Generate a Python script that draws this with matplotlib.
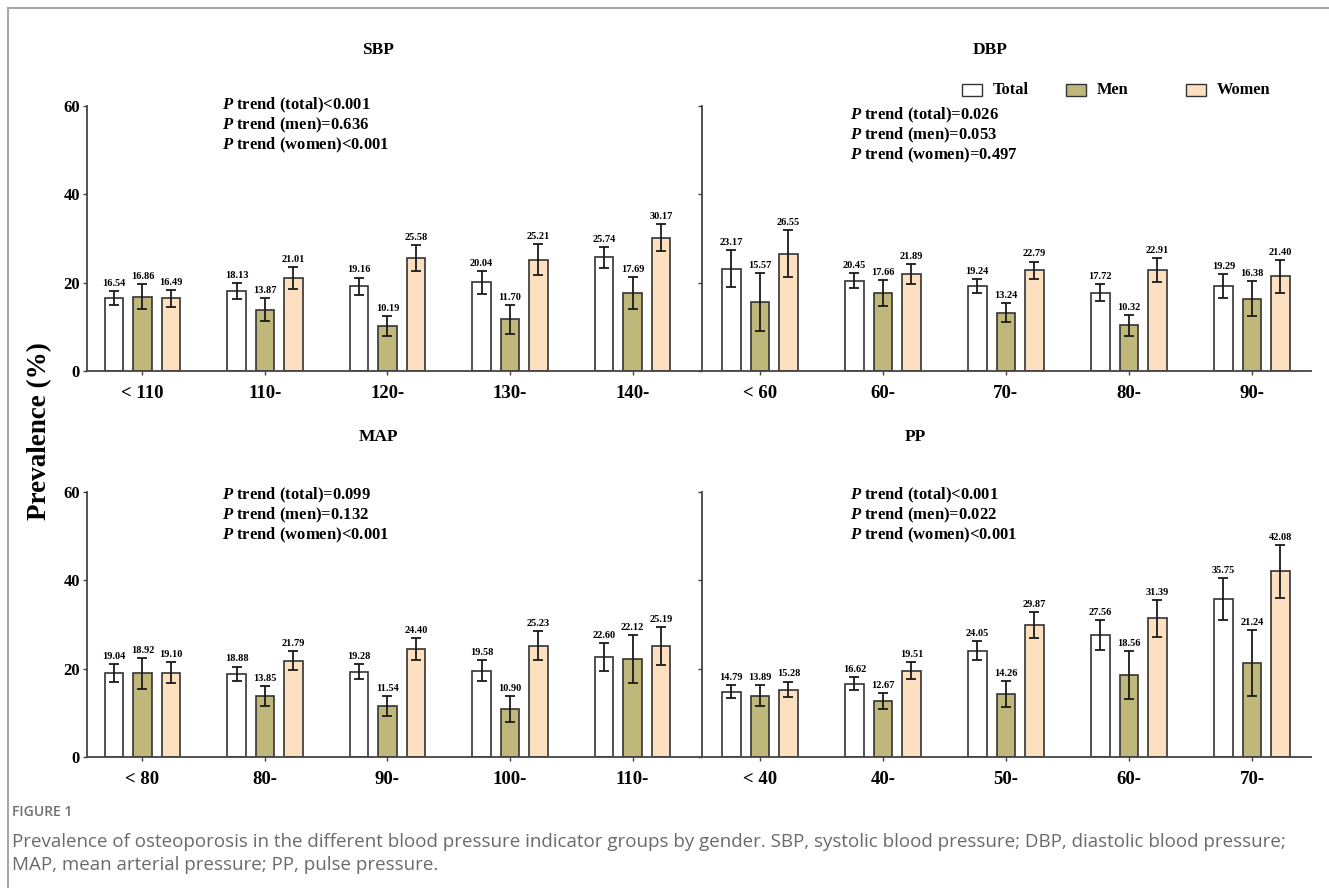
import numpy as np
import matplotlib
matplotlib.use("Agg")
import matplotlib.pyplot as plt
from matplotlib.patches import Rectangle
from matplotlib.lines import Line2D

plt.rcParams['font.family'] = ['Liberation Serif', 'DejaVu Serif']
plt.rcParams['mathtext.fontset'] = 'custom'
plt.rcParams['mathtext.it'] = 'Liberation Serif:italic:bold'
plt.rcParams['mathtext.rm'] = 'Liberation Serif:bold'

# SBP
sbp_groups = ["< 110", "110-", "120-", "130-", "140-"]
sbp_total = [16.54, 18.13, 19.16, 20.04, 25.74]
sbp_men = [16.86, 13.87, 10.19, 11.70, 17.69]
sbp_women = [16.49, 21.01, 25.58, 25.21, 30.17]
sbp_total_err = [1.6, 1.8, 2.0, 2.55, 2.4]
sbp_men_err = [2.8, 2.6, 2.35, 3.3, 3.55]
sbp_women_err = [1.9, 2.5, 2.9, 3.5, 3.1]
sbp_trend = ["(total)<0.001", "(men)=0.636", "(women)<0.001"]

# DBP
dbp_groups = ["< 60", "60-", "70-", "80-", "90-"]
dbp_total = [23.17, 20.45, 19.24, 17.72, 19.29]
dbp_men = [15.57, 17.66, 13.24, 10.32, 16.38]
dbp_women = [26.55, 21.89, 22.79, 22.91, 21.40]
dbp_total_err = [4.2, 1.75, 1.5, 1.9, 2.7]
dbp_men_err = [6.55, 2.85, 2.15, 2.3, 3.9]
dbp_women_err = [5.35, 2.3, 2.0, 2.7, 3.7]
dbp_trend = ["(total)=0.026", "(men)=0.053", "(women)=0.497"]

# MAP
map_groups = ["< 80", "80-", "90-", "100-", "110-"]
map_total = [19.04, 18.88, 19.28, 19.58, 22.60]
map_men = [18.92, 13.85, 11.54, 10.90, 22.12]
map_women = [19.10, 21.79, 24.40, 25.23, 25.19]
map_total_err = [2.0, 1.6, 1.7, 2.35, 3.2]
map_men_err = [3.45, 2.3, 2.2, 2.9, 5.4]
map_women_err = [2.45, 2.1, 2.45, 3.35, 4.3]
map_trend = ["(total)=0.099", "(men)=0.132", "(women)<0.001"]

# PP
pp_groups = ["< 40", "40-", "50-", "60-", "70-"]
pp_total = [14.79, 16.62, 24.05, 27.56, 35.75]
pp_men = [13.89, 12.67, 14.26, 18.56, 21.24]
pp_women = [15.28, 19.51, 29.87, 31.39, 42.08]
pp_total_err = [1.5, 1.4, 2.2, 3.4, 4.8]
pp_men_err = [2.4, 1.9, 2.9, 5.5, 7.5]
pp_women_err = [1.8, 1.95, 2.9, 4.2, 6.0]
pp_trend = ["(total)<0.001", "(men)=0.022", "(women)<0.001"]

series_names = ["Total", "Men", "Women"]
colors = ["#ffffff", "#c0b77b", "#fde0c0"]

W, H = 1329, 888
fig = plt.figure(figsize=(W / 100, H / 100), dpi=100)


def px(x, y):
    return x / W, 1 - y / H


def make_axes(left, right, top, bottom):
    x0, y0 = px(left, bottom)
    x1, y1 = px(right, top)
    return fig.add_axes([x0, y0, x1 - x0, y1 - y0])


def draw_panel(ax, groups, vals, errs, show_ylabels, xlim):
    x = np.arange(len(groups))
    width = 0.151
    offsets = [-0.232, 0, 0.232]
    for v, e, c, off in zip(vals, errs, colors, offsets):
        ax.bar(x + off, v, width, color=c, edgecolor="#333333", linewidth=1.2, zorder=2)
        ax.errorbar(x + off, v, yerr=e, fmt="none", ecolor="#1a1a1a",
                    elinewidth=1.3, capsize=3.8, capthick=1.3, zorder=3)
        for xi, vi, ei in zip(x + off, v, e):
            ax.text(xi, vi + ei + 0.7, f"{vi:.2f}", ha="center", va="bottom",
                    fontsize=7.5, fontweight="bold")
    ax.set_xlim(*xlim)
    ax.set_ylim(0, 60)
    ax.set_yticks([0, 20, 40, 60])
    ax.set_xticks(x)
    ax.set_xticklabels(groups, fontsize=13.5, fontweight="bold")
    for spine in ["top", "right"]:
        ax.spines[spine].set_visible(False)
    for spine in ["left", "bottom"]:
        ax.spines[spine].set_color("#444444")
        ax.spines[spine].set_linewidth(1.3)
    ax.tick_params(axis="x", length=3, width=1, color="#444444", pad=7)
    ax.tick_params(axis="y", length=3, width=1, color="#444444", pad=2)
    if show_ylabels:
        for lab in ax.get_yticklabels():
            lab.set_fontweight("bold")
            lab.set_fontsize(12)
    else:
        ax.set_yticklabels([])


ax_sbp = make_axes(87, 700, 106, 371)
ax_dbp = make_axes(702, 1311, 106, 371)
ax_map = make_axes(87, 700, 492, 757)
ax_pp = make_axes(702, 1311, 492, 757)

draw_panel(ax_sbp, sbp_groups, [sbp_total, sbp_men, sbp_women],
           [sbp_total_err, sbp_men_err, sbp_women_err], True, (-0.453, 4.551))
draw_panel(ax_dbp, dbp_groups, [dbp_total, dbp_men, dbp_women],
           [dbp_total_err, dbp_men_err, dbp_women_err], False, (-0.47, 4.48))
draw_panel(ax_map, map_groups, [map_total, map_men, map_women],
           [map_total_err, map_men_err, map_women_err], True, (-0.453, 4.551))
draw_panel(ax_pp, pp_groups, [pp_total, pp_men, pp_women],
           [pp_total_err, pp_men_err, pp_women_err], False, (-0.47, 4.48))

# panel titles
for name, (tx, ty) in [("SBP", (378, 50)), ("DBP", (990, 50)),
                       ("MAP", (378, 437)), ("PP", (915, 437))]:
    fig.text(*px(tx, ty), name, ha="center", va="center", fontsize=12.5, fontweight="bold")

# trend p-values
for trend, (tx, ty) in [(sbp_trend, (222, 105)), (dbp_trend, (850, 115)),
                        (map_trend, (222, 495)), (pp_trend, (850, 495))]:
    for i, t in enumerate(trend):
        fig.text(*px(tx, ty + i * 20), r"$\mathit{P}$ trend " + t,
                 ha="left", va="center", fontsize=12, fontweight="bold")

# y label
fig.text(*px(40, 431), "Prevalence (%)", rotation=90, ha="center", va="center",
         fontsize=19.5, fontweight="bold")

# legend
for name, c, bx in zip(series_names, colors, [962, 1066, 1186]):
    x0, y0 = px(bx, 96)
    fig.add_artist(Rectangle((x0, y0), 20 / W, 12 / H, transform=fig.transFigure,
                             facecolor=c, edgecolor="#333333", linewidth=1.0))
    fig.text(*px(bx + 31, 90), name, ha="left", va="center",
             fontsize=11.8, fontweight="bold")

# frame
fig.add_artist(Line2D([8 / W, 8 / W], [0, 1 - 8 / H], transform=fig.transFigure,
                      color="#a8a8a8", linewidth=1.5))
fig.add_artist(Line2D([8 / W, 1], [1 - 8 / H, 1 - 8 / H], transform=fig.transFigure,
                      color="#a8a8a8", linewidth=1.5))

# caption
fig.text(*px(12, 812), "FIGURE 1", ha="left", va="center", fontsize=10,
         fontweight="semibold", color="#707070", family="Open Sans")
fig.text(*px(12, 842),
         "Prevalence of osteoporosis in the different blood pressure indicator groups by gender. "
         "SBP, systolic blood pressure; DBP, diastolic blood pressure;",
         ha="left", va="center", fontsize=13.5, color="#6a6a6a", family="Open Sans")
fig.text(*px(12, 865), "MAP, mean arterial pressure; PP, pulse pressure.",
         ha="left", va="center", fontsize=13.5, color="#6a6a6a", family="Open Sans")

fig.savefig("out.png", dpi=100)
